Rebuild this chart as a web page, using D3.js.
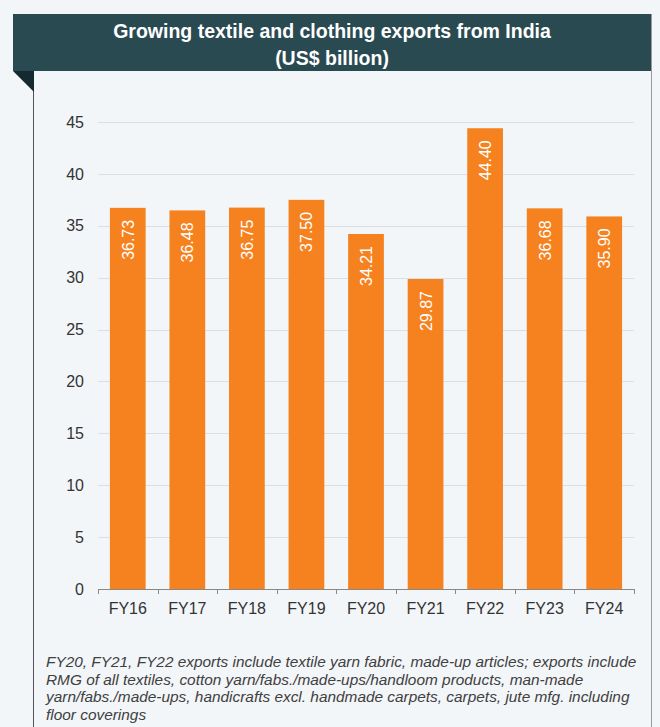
<!DOCTYPE html>
<html>
<head>
<meta charset="utf-8">
<script src="https://cdn.jsdelivr.net/npm/d3@7"></script>
<style>
  body { margin: 0; background: #f3f6f9; }
  svg { display: block; font-family: "Liberation Sans", Arial, sans-serif; }
</style>
</head>
<body>
<script>
const years = ["FY16", "FY17", "FY18", "FY19", "FY20", "FY21", "FY22", "FY23", "FY24"];
const exportsBn = [36.73, 36.48, 36.75, 37.50, 34.21, 29.87, 44.40, 36.68, 35.90];
const yTicks = [0, 5, 10, 15, 20, 25, 30, 35, 40, 45];
const titleLines = ["Growing textile and clothing exports from India", "(US$ billion)"];
const noteLines = [
  "FY20, FY21, FY22 exports include textile yarn fabric, made-up articles; exports include",
  "RMG of all textiles, cotton yarn/fabs./made-ups/handloom products, man-made",
  "yarn/fabs./made-ups, handicrafts excl. handmade carpets, carpets, jute mfg. including",
  "floor coverings"
];

const W = 660, H = 727;
const svg = d3.select("body").append("svg")
  .attr("width", W)
  .attr("height", H);

svg.append("rect").attr("width", W).attr("height", H).attr("fill", "#f3f6f9");

// panel borders
svg.append("line").attr("x1", 33.5).attr("x2", 33.5).attr("y1", 71).attr("y2", H)
  .attr("stroke", "#555").attr("stroke-width", 1);
svg.append("line").attr("x1", 651.5).attr("x2", 651.5).attr("y1", 14).attr("y2", H)
  .attr("stroke", "#999").attr("stroke-width", 1);

// header band + fold
svg.append("rect").attr("x", 13).attr("y", 14).attr("width", 638).attr("height", 57)
  .attr("fill", "#2a4a52");
svg.append("path").attr("d", "M13,71 L34,71 L34,92 Z").attr("fill", "#142a30");

svg.append("g").selectAll("text")
  .data(titleLines)
  .join("text")
  .attr("x", 332)
  .attr("y", (d, i) => 38 + i * 27)
  .attr("text-anchor", "middle")
  .attr("fill", "#fff")
  .style("font-size", "19.5px")
  .style("font-weight", "bold")
  .text(d => d);

// chart
const margin = { left: 98, right: 634, top: 122, bottom: 589 };

const x = d3.scaleBand()
  .domain(years)
  .range([margin.left, margin.right])
  .paddingInner(0.4)
  .paddingOuter(0.2);

const y = d3.scaleLinear()
  .domain([0, 45])
  .range([margin.bottom, margin.top]);

// gridlines
svg.append("g").selectAll("line")
  .data(yTicks.filter(d => d > 0))
  .join("line")
  .attr("x1", margin.left)
  .attr("x2", margin.right)
  .attr("y1", d => Math.round(y(d)) + 0.5)
  .attr("y2", d => Math.round(y(d)) + 0.5)
  .attr("stroke", "#dcdfe2");

// y labels
const yAxis = svg.append("g")
  .attr("transform", `translate(${margin.left - 14},0)`)
  .call(d3.axisLeft(y).tickValues(yTicks).tickSize(0).tickPadding(0));
yAxis.select(".domain").remove();
yAxis.selectAll("text")
  .attr("fill", "#333")
  .style("font-size", "16px")
  .style("font-family", "\"Liberation Sans\", Arial, sans-serif");

// bars
svg.append("g").selectAll("rect")
  .data(exportsBn)
  .join("rect")
  .attr("x", (d, i) => x(years[i]))
  .attr("width", x.bandwidth())
  .attr("y", d => y(d))
  .attr("height", d => y(0) - y(d))
  .attr("fill", "#f5821f");

// bar labels
svg.append("g").selectAll("text")
  .data(exportsBn)
  .join("text")
  .attr("transform", (d, i) =>
    `translate(${x(years[i]) + x.bandwidth() / 2 + 6},${y(d) + 12}) rotate(-90)`)
  .attr("text-anchor", "end")
  .attr("fill", "#fff")
  .style("font-size", "16px")
  .text(d => d3.format(".2f")(d));

// x axis with ticks at band edges
const xAxisG = svg.append("g");
xAxisG.append("line")
  .attr("x1", margin.left).attr("x2", margin.right)
  .attr("y1", y(0) + 0.5).attr("y2", y(0) + 0.5)
  .attr("stroke", "#888");
const edges = years.map(d => x(d) - x.step() * x.paddingInner() / 2).concat([margin.right]);
edges[0] = margin.left;
xAxisG.selectAll(".tk")
  .data(edges)
  .join("line")
  .attr("class", "tk")
  .attr("x1", d => Math.round(d) + 0.5)
  .attr("x2", d => Math.round(d) + 0.5)
  .attr("y1", y(0))
  .attr("y2", y(0) + 5)
  .attr("stroke", "#888");
xAxisG.selectAll(".lbl")
  .data(years)
  .join("text")
  .attr("class", "lbl")
  .attr("x", d => x(d) + x.bandwidth() / 2)
  .attr("y", 614)
  .attr("text-anchor", "middle")
  .attr("fill", "#333")
  .style("font-size", "16px")
  .text(d => d);

// footnote
svg.append("g").selectAll("text")
  .data(noteLines)
  .join("text")
  .attr("x", 46)
  .attr("y", (d, i) => 667 + i * 17.5)
  .attr("fill", "#404040")
  .style("font-size", "15.4px")
  .style("font-style", "italic")
  .text(d => d);
</script>
</body>
</html>
